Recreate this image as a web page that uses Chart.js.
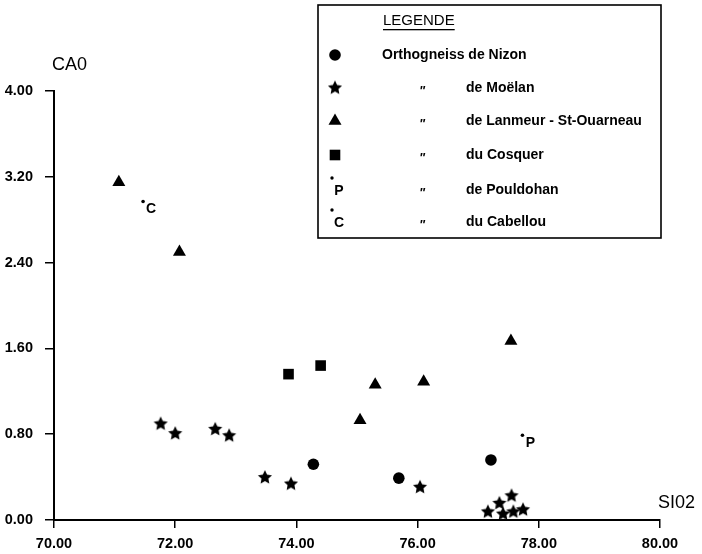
<!DOCTYPE html>
<html>
<head>
<meta charset="utf-8">
<script src="https://cdn.jsdelivr.net/npm/chart.js@4.4.0/dist/chart.umd.min.js"></script>
<style>
    html, body { margin: 0; padding: 0; background: #fff; }
    #wrap { width: 702px; height: 554px; }
</style>
</head>
<body>
<div id="wrap"><canvas id="chart" width="702" height="554"></canvas></div>
<script>
// SiO2 / CaO values
const nizonX = [74.28, 75.69, 77.21];
const nizonY = [0.52, 0.39, 0.56];

const moelanX = [71.76, 72.00, 72.66, 72.89, 73.48, 73.91, 76.04, 77.16, 77.35, 77.55, 77.41, 77.58, 77.74];
const moelanY = [0.90, 0.81, 0.85, 0.79, 0.40, 0.34, 0.31, 0.08, 0.16, 0.23, 0.06, 0.08, 0.10];

const lanmeurX = [71.07, 72.07, 75.05, 75.30, 76.10, 77.54];
const lanmeurY = [3.15, 2.50, 0.93, 1.26, 1.29, 1.67];

const cosquerX = [73.87, 74.40];
const cosquerY = [1.36, 1.44];

const pouldohanX = [77.73];
const pouldohanY = [0.79];

const cabellouX = [71.47];
const cabellouY = [2.97];

const xTicks = [70, 72, 74, 76, 78, 80];
const yTicks = [0, 0.8, 1.6, 2.4, 3.2, 4.0];

const legendTitle = 'LEGENDE';
const legendRows = [
    { mark: 'circle', ditto: false, text: 'Orthogneiss de Nizon' },
    { mark: 'star', ditto: true, text: 'de Moëlan' },
    { mark: 'triangle', ditto: true, text: 'de Lanmeur - St-Ouarneau' },
    { mark: 'rect', ditto: true, text: 'du Cosquer' },
    { mark: 'P', ditto: true, text: 'de Pouldohan' },
    { mark: 'C', ditto: true, text: 'du Cabellou' }
];

const FONT = '"Liberation Sans", Arial, Helvetica, sans-serif';

function toPoints(xs, ys) {
    return xs.map((x, i) => ({ x: x, y: ys[i] }));
}

function drawStar(ctx, cx, cy, outer, inner) {
    ctx.beginPath();
    for (let i = 0; i < 10; i++) {
        const r = i % 2 === 0 ? outer : inner;
        const a = -Math.PI / 2 + i * Math.PI / 5;
        const px = cx + r * Math.cos(a);
        const py = cy + r * Math.sin(a);
        if (i === 0) ctx.moveTo(px, py); else ctx.lineTo(px, py);
    }
    ctx.closePath();
    ctx.fill();
}

// filled star used as point style
const starImg = document.createElement('canvas');
starImg.width = 16;
starImg.height = 16;
(function() {
    const c = starImg.getContext('2d');
    c.fillStyle = '#000';
    drawStar(c, 8, 8.5, 7.4, 3.6);
})();

function drawMark(ctx, mark, x, y) {
    ctx.fillStyle = '#000';
    if (mark === 'circle') {
        ctx.beginPath();
        ctx.arc(x, y, 5.8, 0, Math.PI * 2);
        ctx.fill();
    } else if (mark === 'star') {
        ctx.drawImage(starImg, x - 8, y - 8.5);
    } else if (mark === 'triangle') {
        const r = 7.5;
        ctx.beginPath();
        ctx.moveTo(x, y - r);
        ctx.lineTo(x + r * Math.sin(Math.PI * 2 / 3), y + r / 2);
        ctx.lineTo(x - r * Math.sin(Math.PI * 2 / 3), y + r / 2);
        ctx.closePath();
        ctx.fill();
    } else if (mark === 'rect') {
        ctx.fillRect(x - 5.3, y - 5.3, 10.6, 10.6);
    } else {
        ctx.beginPath();
        ctx.arc(x - 3, y - 12, 1.7, 0, Math.PI * 2);
        ctx.fill();
        ctx.font = 'bold 14px ' + FONT;
        ctx.textAlign = 'center';
        ctx.textBaseline = 'middle';
        ctx.fillText(mark, x + 4, y + 1);
    }
}

// letters next to the P and C dots, axis titles and the legend box
const annotations = {
    id: 'annotations',
    afterDatasetsDraw(chart) {
        const ctx = chart.ctx;
        ctx.save();
        ctx.fillStyle = '#000';
        ctx.font = 'bold 14px ' + FONT;
        ctx.textAlign = 'center';
        ctx.textBaseline = 'middle';
        chart.data.datasets.forEach((ds, i) => {
            if (!ds.letter) return;
            chart.getDatasetMeta(i).data.forEach(pt => {
                ctx.fillText(ds.letter, pt.x + 8, pt.y + 7.5);
            });
        });

        ctx.font = '18px ' + FONT;
        ctx.textAlign = 'left';
        ctx.fillText('CA0', 52, 65);
        ctx.fillText('SI02', 658, 503);

        // legend
        const bx = 318, by = 5, bw = 343, bh = 233;
        ctx.strokeStyle = '#000';
        ctx.lineWidth = 1.6;
        ctx.strokeRect(bx, by, bw, bh);

        ctx.font = '15px ' + FONT;
        ctx.textAlign = 'left';
        ctx.fillText(legendTitle, 383, 21);
        const tw = ctx.measureText(legendTitle).width;
        ctx.fillRect(383, 29, tw, 1.3);

        const rowY = [55, 88, 121, 155, 190, 222];
        legendRows.forEach((row, i) => {
            const y = rowY[i];
            drawMark(ctx, row.mark, 335, y);
            ctx.font = 'bold 14px ' + FONT;
            ctx.textAlign = 'left';
            ctx.textBaseline = 'middle';
            if (row.ditto) {
                ctx.font = 'italic bold 13px ' + FONT;
                ctx.fillText('"', 419, y + 3);
                ctx.font = 'bold 14px ' + FONT;
                ctx.fillText(row.text, 466, y);
            } else {
                ctx.fillText(row.text, 382, y);
            }
        });
        ctx.restore();
    }
};

const ctx = document.getElementById('chart');

new Chart(ctx, {
    type: 'scatter',
    data: {
        datasets: [
            {
                label: 'Orthogneiss de Nizon',
                data: toPoints(nizonX, nizonY),
                pointStyle: 'circle',
                pointRadius: 5.8,
                backgroundColor: '#000',
                borderColor: '#000',
                borderWidth: 0
            },
            {
                label: 'de Moëlan',
                data: toPoints(moelanX, moelanY),
                pointStyle: starImg,
                pointRadius: 7.4,
                backgroundColor: '#000',
                borderColor: '#000'
            },
            {
                label: 'de Lanmeur - St-Ouarneau',
                data: toPoints(lanmeurX, lanmeurY),
                pointStyle: 'triangle',
                pointRadius: 7.5,
                backgroundColor: '#000',
                borderColor: '#000',
                borderWidth: 0
            },
            {
                label: 'du Cosquer',
                data: toPoints(cosquerX, cosquerY),
                pointStyle: 'rect',
                pointRadius: 7.5,
                backgroundColor: '#000',
                borderColor: '#000',
                borderWidth: 0
            },
            {
                label: 'de Pouldohan',
                letter: 'P',
                data: toPoints(pouldohanX, pouldohanY),
                pointStyle: 'circle',
                pointRadius: 1.8,
                backgroundColor: '#000',
                borderColor: '#000',
                borderWidth: 0
            },
            {
                label: 'du Cabellou',
                letter: 'C',
                data: toPoints(cabellouX, cabellouY),
                pointStyle: 'circle',
                pointRadius: 1.8,
                backgroundColor: '#000',
                borderColor: '#000',
                borderWidth: 0
            }
        ]
    },
    options: {
        responsive: false,
        animation: false,
        devicePixelRatio: 1,
        clip: false,
        layout: {
            padding: { top: 91, right: 42, left: 0, bottom: 0 }
        },
        scales: {
            x: {
                type: 'linear',
                min: 70,
                max: 80,
                afterFit: function(scale) { scale.height = 34; },
                afterBuildTicks: function(scale) {
                    scale.ticks = xTicks.map(v => ({ value: v }));
                },
                ticks: {
                    color: '#000',
                    padding: 7,
                    maxRotation: 0,
                    font: { family: FONT, size: 14.5, weight: 'bold' },
                    callback: v => v.toFixed(2)
                },
                grid: {
                    display: true,
                    drawOnChartArea: false,
                    drawTicks: true,
                    tickLength: 8,
                    color: '#000',
                    lineWidth: 1.5
                },
                border: { display: true, color: '#000', width: 2 }
            },
            y: {
                type: 'linear',
                min: 0,
                max: 4,
                afterFit: function(scale) { scale.width = 54; },
                afterBuildTicks: function(scale) {
                    scale.ticks = yTicks.map(v => ({ value: v }));
                },
                ticks: {
                    color: '#000',
                    padding: 12,
                    font: { family: FONT, size: 14.5, weight: 'bold' },
                    callback: v => v.toFixed(2)
                },
                grid: {
                    display: true,
                    drawOnChartArea: false,
                    drawTicks: true,
                    tickLength: 9,
                    color: '#000',
                    lineWidth: 1.5
                },
                border: { display: true, color: '#000', width: 2 }
            }
        },
        plugins: {
            legend: { display: false },
            title: { display: false },
            tooltip: { enabled: false }
        }
    },
    plugins: [annotations]
});
</script>
</body>
</html>
